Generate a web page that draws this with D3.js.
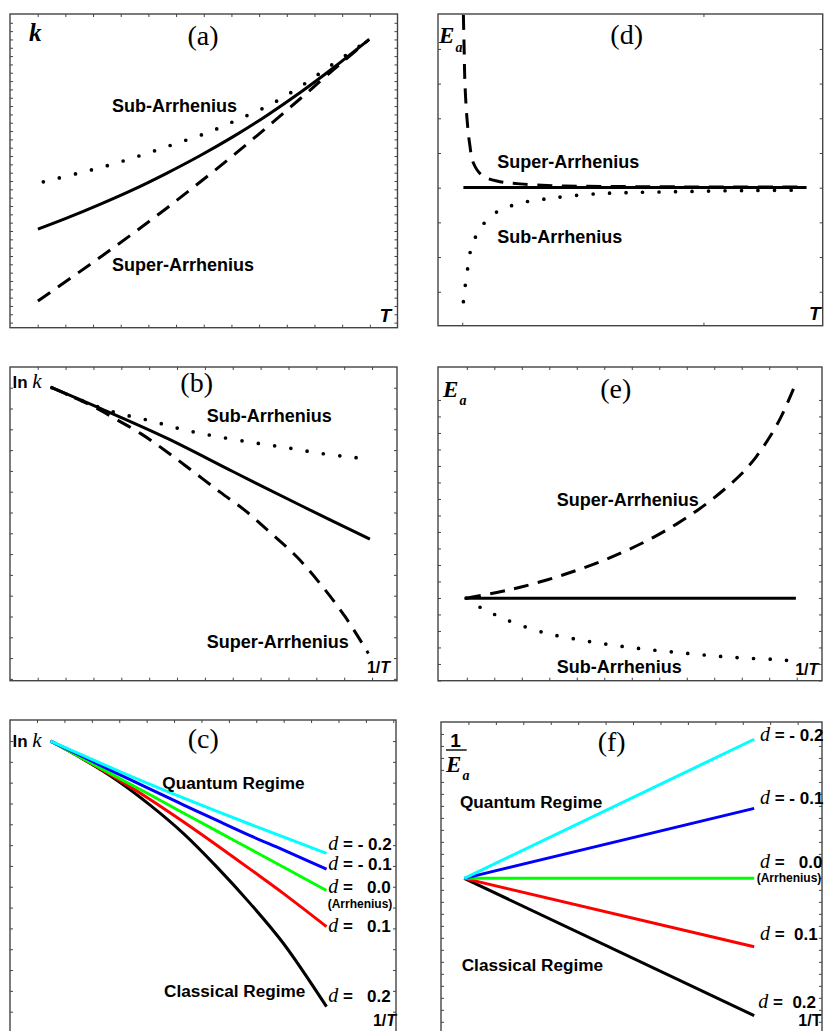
<!DOCTYPE html>
<meta charset="utf-8" />

<head>
  <style>
    body { margin: 0; background: #fff; }
    .sans { font-family: "Liberation Sans", Arial, sans-serif; font-weight: bold; }
    .serif { font-family: "Liberation Serif", "Times New Roman", serif; }
    .tag { font-family: "Liberation Serif", "Times New Roman", serif; text-anchor: middle; }
    .frame { fill: none; stroke: #444; stroke-width: 1.4; }
  </style>
  <script src="https://d3js.org/d3.v7.min.js"></script>
</head>

<body>
  <svg width="826" height="1031"></svg>
  <script>
    // all values, in % of each panel's frame (x: left->right, y: bottom->top)

    // (a) k vs T
    const aArrhenius = [[7.2,31.4],[14.6,34.9],[23.2,39.3],[31.8,44.0],[40.4,49.2],[49.0,54.8],[57.6,60.9],[66.2,67.6],[74.8,74.9],[83.4,82.8],[92.7,91.9]];
    const aSub = [[8.6,46.5],[17.5,49.2],[25.8,51.9],[34.2,55.1],[42.3,58.5],[50.6,62.0],[58.9,66.4],[67.3,71.2],[75.7,77.5],[83.9,84.5],[92.7,91.9]];
    const aSuper = [[7.2,8.5],[16.0,16.1],[24.0,23.1],[32.0,30.3],[40.0,37.7],[48.0,45.4],[56.0,53.3],[64.0,61.5],[72.0,69.9],[80.0,78.5],[86.0,84.9],[92.7,91.9]];

    // (d) Ea vs T
    const dArrhenius = [[6.6,44.3],[95.8,44.3]];
    const dSuper = [[6.6,99.7],[6.8,88.4],[7.0,77.9],[7.5,67.0],[8.2,58.6],[9.2,52.2],[11.4,48.3],[15.3,46.4],[21.3,45.5],[30.0,44.9],[38.7,44.7],[53.4,44.6],[70.8,44.5],[95.8,44.5]];
    const dSub = [[6.6,7.7],[6.8,10.4],[7.3,14.7],[7.9,20.0],[8.5,24.3],[9.4,27.5],[11.4,32.0],[15.4,36.6],[19.6,38.7],[23.9,40.0],[28.3,40.7],[32.6,41.4],[40.9,42.3],[49.1,42.7],[57.7,42.9],[66.4,43.1],[75.1,43.3],[83.7,43.4],[95.4,43.5]];

    // (b) ln k vs 1/T
    const bArrhenius = [[10.8,93.4],[23.3,86.8],[40.5,77.3],[57.7,66.6],[74.9,56.0],[93.0,45.1]];
    const bSub = [[10.8,93.4],[19.4,88.9],[27.6,85.4],[36.2,82.9],[44.6,80.1],[52.9,78.0],[62.8,75.9],[71.5,74.3],[80.1,72.5],[88.7,71.2],[92.6,70.7]];
    const bSuper = [[10.8,93.4],[20.7,87.9],[27.0,83.6],[34.0,78.6],[40.5,73.0],[47.4,66.6],[54.3,60.1],[60.3,54.7],[67.2,47.3],[74.1,39.5],[80.1,31.0],[86.6,20.4],[92.6,8.7]];

    // (e) Ea vs 1/T
    const eArrhenius = [[7.3,26.3],[93.2,26.3]];
    const eSuper = [[7.3,26.3],[15.3,28.1],[21.4,29.8],[28.3,32.1],[35.2,34.8],[42.2,37.9],[49.1,41.5],[56.1,45.7],[62.2,50.0],[67.4,54.2],[71.7,58.1],[76.0,62.5],[79.5,66.5],[83.0,71.6],[86.5,77.9],[89.5,84.5],[93.0,94.3]];
    const eSub = [[7.3,26.3],[11.8,22.8],[15.7,20.6],[20.1,18.3],[28.3,15.1],[37.0,13.0],[45.2,11.4],[53.5,10.1],[61.7,9.1],[70.2,8.1],[78.6,7.3],[87.2,6.8],[93.0,6.3]];

    // (c) ln k vs 1/T for several d
    const cInvT = [10.5,18.9,27.6,36.3,44.9,53.5,62.2,70.8,82.0];
    const cLnK = {
      "-0.2": [93.3,88.7,84.0,79.5,75.2,71.0,66.8,62.8,57.5],
      "-0.1": [93.3,88.3,83.1,78.0,73.0,68.1,63.2,58.6,52.5],
      "0.0":  [93.3,87.7,81.9,76.2,70.4,64.7,58.9,53.2,45.7],
      "0.1":  [93.3,87.6,81.4,74.7,67.6,60.2,52.5,44.8,34.2],
      "0.2":  [93.3,87.6,80.9,72.9,63.9,53.3,41.6,28.9,8.7]
    };

    // (f) 1/Ea vs 1/T
    const fInvT = [6.1,82.2];
    const fInvEa = {
      "-0.2": [50.2,94.5],
      "-0.1": [50.2,72.5],
      "0.0":  [50.2,50.2],
      "0.1":  [50.2,28.4],
      "0.2":  [50.2,6.5]
    };

    const dValues = ["-0.2","-0.1","0.0","0.1","0.2"];
    const dColors = ["#00ffff","#0000ff","#00ff00","#ff0000","#000000"];

    const svg = d3.select("svg");

    const styles = {
      solid: { w: 3, dash: null },
      dashed: { w: 3, dash: "15 9.5" },
      dotted: { w: 3.7, dash: "0 16.5" }
    };

    function panel(id, box, xTicks, yTicks) {
      const g = svg.append("g").attr("transform", "translate(" + box[0] + "," + box[1] + ")");
      const x = d3.scaleLinear().domain([0, 100]).range([0, box[2]]);
      const y = d3.scaleLinear().domain([0, 100]).range([box[3], 0]);
      g.append("clipPath").attr("id", "clip-" + id)
        .append("rect").attr("width", box[2]).attr("height", box[3]);
      const axes = [
        [d3.axisTop(x).tickValues(xTicks), 0, 0],
        [d3.axisBottom(x).tickValues(xTicks), 0, box[3]],
        [d3.axisLeft(y).tickValues(yTicks), 0, 0],
        [d3.axisRight(y).tickValues(yTicks), box[2], 0]
      ];
      axes.forEach(function (a) {
        g.append("g")
          .attr("transform", "translate(" + a[1] + "," + a[2] + ")")
          .call(a[0].tickSizeInner(-3).tickSizeOuter(0).tickFormat(""))
          .call(function (s) { s.select(".domain").remove(); })
          .selectAll("line").attr("stroke", "#444").attr("stroke-width", 1);
      });
      g.append("rect").attr("class", "frame").attr("width", box[2]).attr("height", box[3]);
      const plot = g.append("g").attr("clip-path", "url(#clip-" + id + ")");
      return { g: g, plot: plot, x: x, y: y };
    }

    function curve(P, data, style, color, straight) {
      const st = styles[style];
      const line = d3.line()
        .x(function (d) { return P.x(d[0]); })
        .y(function (d) { return P.y(d[1]); })
        .curve(straight ? d3.curveLinear : d3.curveCatmullRom.alpha(0.5));
      P.plot.append("path")
        .attr("d", line(data))
        .attr("fill", "none")
        .attr("stroke", color || "#000")
        .attr("stroke-width", st.w)
        .attr("stroke-dasharray", st.dash)
        .attr("stroke-linecap", style === "dotted" ? "round" : "butt");
    }

    // labels are placed in page pixels
    function text(x, y, size, cls, str, anchor) {
      return svg.append("text").attr("x", x).attr("y", y)
        .attr("class", cls).style("font-size", size + "px")
        .attr("text-anchor", anchor || "start").text(str);
    }

    function invT(x, y, anchor, upright) {
      const t = svg.append("text").attr("x", x).attr("y", y).attr("class", "sans")
        .style("font-size", "16px").attr("text-anchor", anchor || "end");
      t.append("tspan").text("1/");
      t.append("tspan").style("font-style", upright ? "normal" : "italic").text("T");
    }

    function lnk(x, y) {
      const t = svg.append("text").attr("x", x).attr("y", y);
      t.append("tspan").attr("class", "sans").style("font-size", "17px").text("ln ");
      t.append("tspan").attr("class", "serif").style("font-style", "italic").style("font-size", "21px").text("k");
    }

    function ea(x, y) {
      text(x, y, 23, "serif", "E").style("font-style", "italic").style("font-weight", "bold");
      text(x + 16.5, y + 8.5, 14, "serif", "a").style("font-style", "italic").style("font-weight", "bold");
    }

    function dLabel(x, y, str) {
      const t = svg.append("text").attr("x", x).attr("y", y).attr("xml:space", "preserve")
        .style("white-space", "pre");
      t.append("tspan").attr("class", "serif").style("font-style", "italic").style("font-size", "20px").text("d");
      t.append("tspan").attr("class", "sans").style("font-size", "17px").text(str);
    }

    // ---------- (a)
    const A = panel("a", [10, 14, 387.5, 313.7], d3.range(7.143, 100, 7.143), d3.range(97.2, 0, -2.655));
    curve(A, aSub, "dotted");
    curve(A, aSuper, "dashed");
    curve(A, aArrhenius, "solid");
    text(29, 41, 25, "serif", "k").style("font-style", "italic").style("font-weight", "bold");
    text(203, 45, 28, "tag", "(a)", "middle");
    text(112, 112, 18, "sans", "Sub-Arrhenius");
    text(112, 271, 18, "sans", "Super-Arrhenius");
    text(391, 322, 19, "sans", "T", "end").style("font-style", "italic");

    // ---------- (d)
    const D = panel("d", [438, 14, 384.7, 311.7], [6.3, 69.0], d3.range(88.8, 0, -11.13));
    curve(D, dSub, "dotted");
    curve(D, dSuper, "dashed");
    curve(D, dArrhenius, "solid", null, true);
    ea(439, 43);
    text(626.7, 44, 28, "tag", "(d)", "middle");
    text(497.3, 168, 18, "sans", "Super-Arrhenius");
    text(497.3, 242.5, 18, "sans", "Sub-Arrhenius");
    text(820.5, 320, 19, "sans", "T", "end").style("font-style", "italic");

    // ---------- (b)
    const B = panel("b", [10, 367, 387, 313.7], d3.range(7.16, 100, 7.2), d3.range(93.4, 0, -6.63));
    curve(B, bSub, "dotted");
    curve(B, bSuper, "dashed");
    curve(B, bArrhenius, "solid");
    lnk(12.5, 388.3);
    text(196.7, 392, 28, "tag", "(b)", "middle");
    text(206.7, 421.7, 18, "sans", "Sub-Arrhenius");
    text(206.7, 648.3, 18, "sans", "Super-Arrhenius");
    invT(390, 673.3);

    // ---------- (e)
    const E = panel("e", [438, 367, 384, 313.7], d3.range(7.5, 100, 7.16), d3.range(89.5, 0, -5.26));
    curve(E, eSub, "dotted");
    curve(E, eSuper, "dashed");
    curve(E, eArrhenius, "solid", null, true);
    ea(443, 396.7);
    text(615.7, 398, 28, "tag", "(e)", "middle");
    text(556.7, 505.7, 18, "sans", "Super-Arrhenius");
    text(556.7, 673.3, 18, "sans", "Sub-Arrhenius");
    invT(818.3, 675);

    // ---------- (c)
    const C = panel("c", [10, 720, 386, 314], d3.range(7.0, 100, 7.1), d3.range(93.3, 0, -6.63));
    dValues.slice().reverse().forEach(function (d, i) {
      const col = dColors[dValues.length - 1 - i];
      curve(C, cInvT.map(function (t, j) { return [t, cLnK[d][j]]; }), "solid", col);
    });
    lnk(12.5, 746.7);
    text(203.3, 748, 28, "tag", "(c)", "middle");
    text(162.3, 789.3, 17.2, "sans", "Quantum Regime");
    text(164, 996.7, 17.2, "sans", "Classical Regime");
    dLabel(328.3, 850, " = - 0.2");
    dLabel(328.3, 870, " = - 0.1");
    dLabel(328.3, 892.7, " =   0.0");
    text(327.7, 907.7, 12, "sans", "(Arrhenius)");
    dLabel(328.3, 931.7, " =   0.1");
    dLabel(328.3, 1001.7, " =   0.2");
    invT(396, 1026);

    // ---------- (f)
    const F = panel("f", [441, 722, 381, 314], d3.range(7.2, 100, 7.2), d3.range(96.2, 0, -3.82));
    dValues.slice().reverse().forEach(function (d, i) {
      const col = dColors[dValues.length - 1 - i];
      curve(F, fInvT.map(function (t, j) { return [t, fInvEa[d][j]]; }), "solid", col, true);
    });
    text(455.5, 746.7, 19, "sans", "1", "middle");
    svg.append("line").attr("x1", 446).attr("x2", 466.7).attr("y1", 750).attr("y2", 750)
      .attr("stroke", "#000").attr("stroke-width", 1.4);
    ea(446, 771.7);
    text(611.7, 751, 28, "tag", "(f)", "middle");
    text(460, 807.7, 17.2, "sans", "Quantum Regime");
    text(461.7, 971, 17.2, "sans", "Classical Regime");
    dLabel(760, 740.7, " = - 0.2");
    dLabel(760, 804, " = - 0.1");
    dLabel(760, 868.3, " =   0.0");
    text(756.7, 881.7, 12, "sans", "(Arrhenius)");
    dLabel(760, 940, " =  0.1");
    dLabel(758.3, 1008.3, " =  0.2");
    invT(798.3, 1026, "start", true);
  </script>
</body>
